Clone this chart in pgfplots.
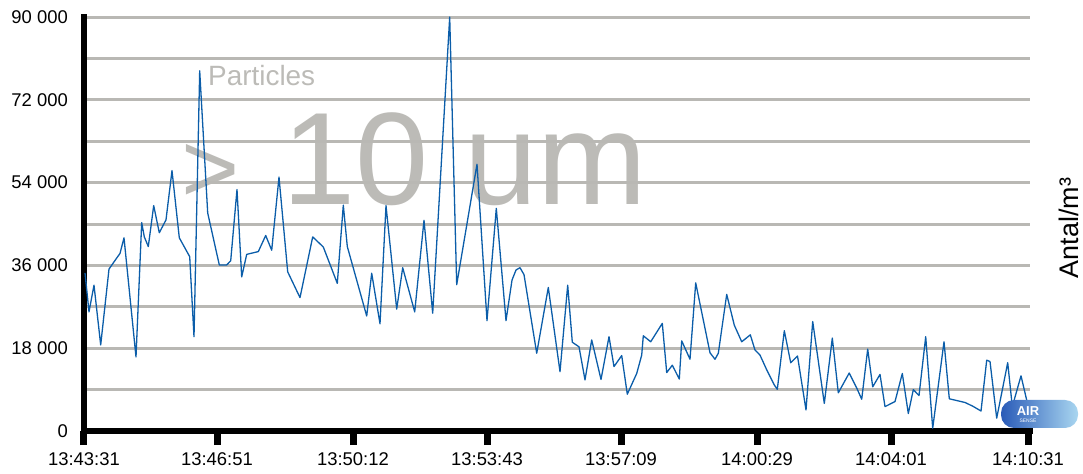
\documentclass[border=0pt]{standalone}
\usepackage{fontspec}
\setmainfont{Liberation Sans}
\usepackage{pgfplots}
\pgfplotsset{compat=1.18}
\definecolor{gridgray}{HTML}{B9B8B4}
\definecolor{txtgray}{HTML}{BCBBB7}
\definecolor{lineblue}{HTML}{0B5DA9}
\definecolor{logoblue}{HTML}{2A5BB8}
\definecolor{logolight}{HTML}{A9D6F0}
\begin{document}
\begin{tikzpicture}
\path[use as bounding box] (-84bp,-43bp) rectangle (999bp,431bp);
\node[txtgray, anchor=base west, inner sep=0pt, font=\fontsize{28}{30}\selectfont] at (124bp,345bp) {Particles};
\node[txtgray, anchor=base west, inner sep=0pt, font=\fontsize{132}{140}\selectfont] at (198bp,226bp) {10 um};
\node[txtgray, anchor=base, inner sep=0pt, font=\fontsize{100}{110}\selectfont] at (126.5bp,228bp) {>};
\begin{axis}[
  at={(0,0)}, anchor=south west,
  scale only axis, width=946bp, height=414bp,
  xmin=84, xmax=1030, ymin=0, ymax=90000,
  axis x line*=bottom, axis y line*=left,
  axis line style={line width=6bp, black, line cap=rect},
  xtick={84,217,353,487,621,757,891,1028},
  xticklabels={13:43:31,13:46:51,13:50:12,13:53:43,13:57:09,14:00:29,14:04:01,14:10:31},
  xtick align=outside,
  major tick length=14bp,
  xtick style={line width=7bp, black},
  xticklabel style={anchor=north, inner sep=0pt, yshift=-7bp, font=\fontsize{18.5}{20}\selectfont},
  scaled y ticks=false, scaled x ticks=false,
  ytick={0,9000,...,90000},
  yticklabels={0,,18 000,,36 000,,54 000,,72 000,,90 000},
  ytick style={draw=none},
  yticklabel style={anchor=east, inner sep=0pt, xshift=-16bp, font=\fontsize{18.5}{20}\selectfont},
  ymajorgrids,
  grid style={gridgray, line width=3bp},
  clip=false,
]
\addplot[lineblue, line width=1.3bp, line join=round] coordinates {
(85,34350) (89,25900) (94,31700) (100.7,18700) (109,35200) (116.7,37600) (120,38600)
(124,42000) (136,16100) (141.7,45300) (144.3,42200) (148.3,40100) (153.7,49000)
(159.3,43100) (166,45900) (172,56600) (179.3,42000) (189.7,37900) (194,20500)
(199.7,78300) (207.7,47400) (219.3,36100) (226.7,36100) (230.7,37000) (237,52500)
(241.7,33500) (246.7,38400) (258.3,39000) (265.7,42500) (271.7,39300) (279,55200)
(287.7,34600) (300,29000) (312.7,42200) (323.3,40000) (337.3,32100) (343.3,49100)
(347.3,40100) (366.7,25000) (371.7,34300) (380,23300) (386,49000) (396.7,26500)
(402.7,35500) (414.7,25900) (424,45800) (432.7,25600) (449.7,90000) (456.7,31800)
(477,58000) (487,24000) (496.3,48400) (506,24000) (512,32800) (516,35000) (520,35500)
(524,34000) (536.7,16900) (548.3,31200) (560,12900) (567.7,31700) (572.3,19300)
(579,18300) (585,11100) (591.7,19800) (601,11200) (609,20500) (614,14000) (621.7,16400)
(627.3,8000) (636.7,12500) (641.7,16500) (643.3,20700) (650.7,19400) (662.3,23400)
(666.7,12700) (672.3,14300) (679.3,11300) (681.7,19600) (690,15600) (695.7,32200)
(710,17000) (715,15600) (718.3,16900) (726.7,29700) (734.3,23000) (741.7,19400)
(750.3,20900) (755,17600) (760,16500) (766.7,13300) (774.3,10000) (777.3,9060)
(784.3,21800) (790.7,14850) (797.5,16300) (806,4570) (812.7,23800) (824.3,6000)
(832.3,20200) (838.3,8300) (849.2,12600) (857.3,9060) (861.7,6900) (867.7,17800)
(872.7,9600) (880,12300) (885,5300) (895,6400) (902.3,12500) (908.3,3800) (913.3,9000)
(919,7700) (925.7,20500) (932.7,600) (944,19400) (949.3,7000) (965,6200) (972.7,5400)
(981,4350) (986.7,15400) (990,15100) (996.7,2800) (1007.7,14850) (1012.3,5300)
(1021,12000) (1026.7,6700)
};
\end{axis}
\node[rotate=90, anchor=base, inner sep=0pt, font=\fontsize{27}{30}\selectfont] at (994bp,203bp) {Antal/m³};
\shade[rounded corners=13bp, left color=logoblue, right color=logolight] (917bp,3bp) rectangle (994bp,31bp);
\node[white, inner sep=0pt, font=\bfseries\fontsize{13}{13}\selectfont] at (944bp,20bp) {AIR};
\node[white, inner sep=0pt, font=\fontsize{5}{5}\selectfont] at (944bp,10bp) {SENSE};
\end{tikzpicture}
\end{document}
